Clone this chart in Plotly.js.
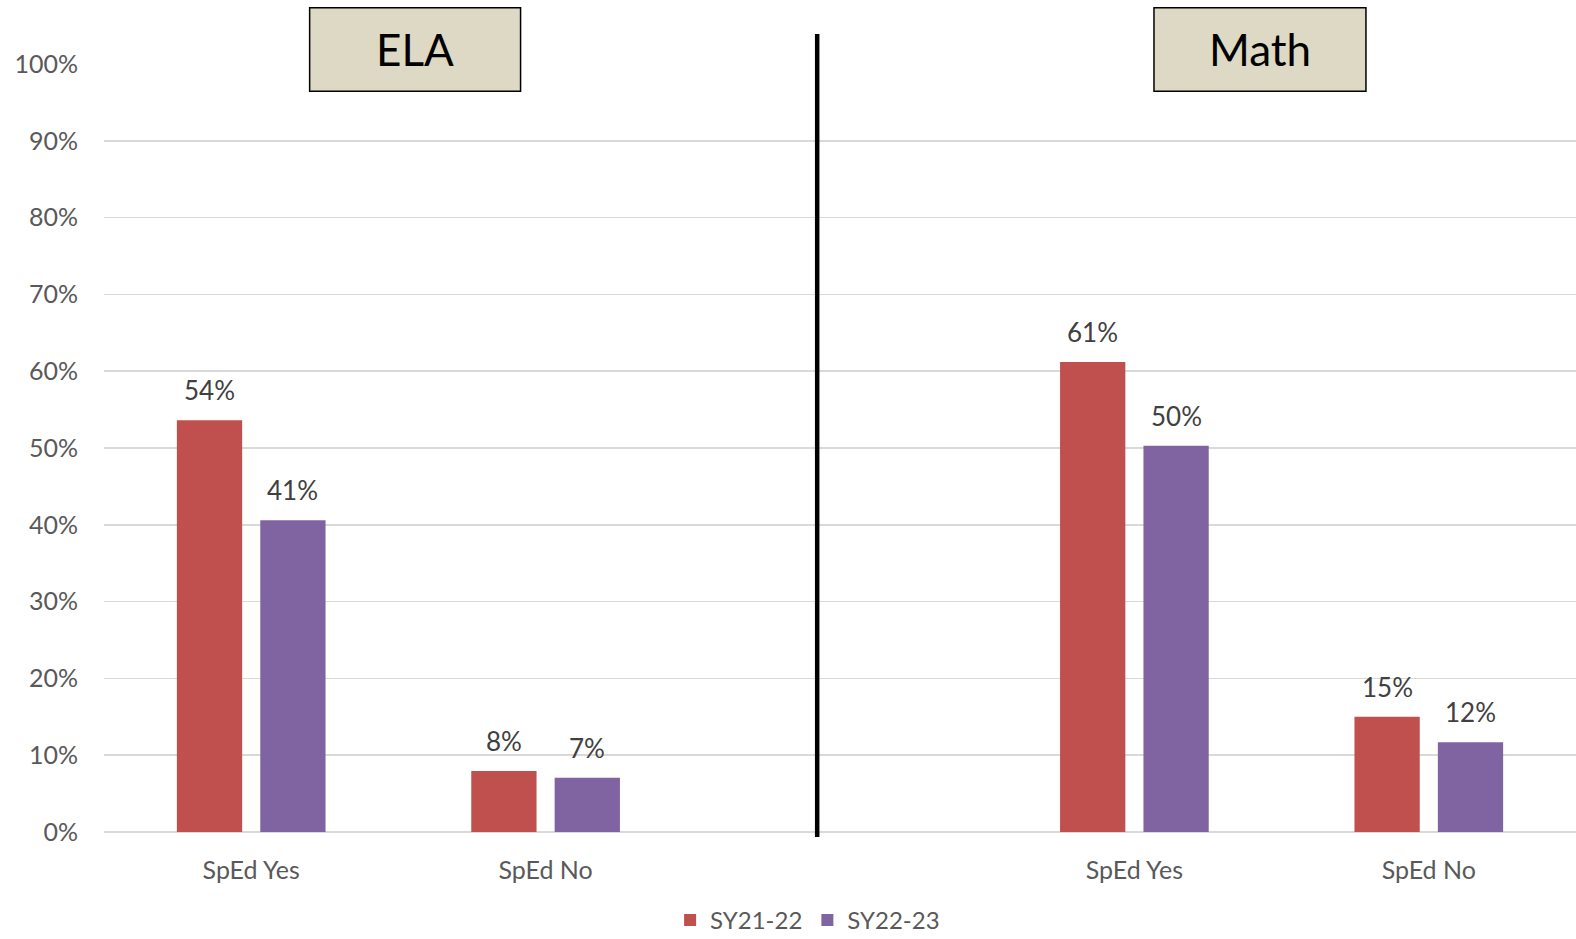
<!DOCTYPE html>
<html>
<head>
<meta charset="utf-8">
<script src="https://cdn.plot.ly/plotly-3.0.1.min.js"></script>
<style>
html,body{margin:0;padding:0;background:#fff;}
#chart{width:1576px;height:939px;}
</style>
</head>
<body>
<div id="chart"></div>
<script>
// ---- data ----
const subjects = ['ELA', 'Math'];
const categories = ['SpEd Yes', 'SpEd No', 'SpEd Yes', 'SpEd No'];
const categoryPos = [0, 1, 3, 4];
const seriesNames = ['SY21-22', 'SY22-23'];
const sy2122 = [53.6, 7.95, 61.2, 15.0];
const sy2223 = [40.6, 7.07, 50.3, 11.7];
const yTickVals = [0, 10, 20, 30, 40, 50, 60, 70, 80, 90, 100];

// ---- styles ----
const FONT = 'Lato, "Open Sans", sans-serif';
const colors = ['#C0504D', '#8064A2'];
const series = [sy2122, sy2223];

const traces = series.map((vals, i) => ({
  type: 'bar',
  name: seriesNames[i],
  x: categoryPos,
  y: vals.map(v => v / 100),
  marker: {color: colors[i]},
  hoverinfo: 'skip'
}));

const slotPx = 41.7;
const annotations = [];
series.forEach((vals, i) => {
  vals.forEach((v, j) => {
    annotations.push({
      x: categoryPos[j], y: v / 100, xref: 'x', yref: 'y',
      xshift: (i === 0 ? -slotPx : slotPx), yshift: 12,
      yanchor: 'bottom', showarrow: false,
      text: Math.round(v) + '%',
      font: {family: FONT, size: 26, color: '#404040'}
    });
  });
});

// subject boxes
const boxes = [
  {x0: 0.1397, x1: 0.283},
  {x0: 0.7133, x1: 0.8573}
];
const shapes = [];
boxes.forEach((b, i) => {
  shapes.push({
    type: 'rect', xref: 'paper', yref: 'paper',
    x0: b.x0, x1: b.x1, y0: 0.9646, y1: 1.0733,
    fillcolor: '#DDD9C4', line: {color: '#000', width: 1.5}, layer: 'above'
  });
  annotations.push({
    xref: 'paper', yref: 'paper', x: (b.x0 + b.x1) / 2, y: 1.019,
    xanchor: 'center', yanchor: 'middle', showarrow: false,
    text: subjects[i],
    font: {family: FONT, size: 44, color: '#000'}
  });
});
// divider line
shapes.push({
  type: 'line', xref: 'paper', yref: 'paper',
  x0: 0.4845, x1: 0.4845, y0: -0.0066, y1: 1.039,
  line: {color: '#000', width: 4.5}, layer: 'above'
});

const layout = {
  width: 1576, height: 939,
  margin: {l: 104, r: 0, t: 64.3, b: 106.8, autoexpand: false},
  paper_bgcolor: '#fff', plot_bgcolor: '#fff',
  barmode: 'group', bargap: 0.4335, bargroupgap: 0.217,
  showlegend: true,
  legend: {
    orientation: 'h', x: 0.478, y: -0.115, xanchor: 'center', yanchor: 'middle',
    font: {family: FONT, size: 24, color: '#595959'}, traceorder: 'normal'
  },
  xaxis: {
    range: [-0.5, 4.5], tickvals: categoryPos, ticktext: categories,
    showgrid: false, zeroline: false, showline: false, ticks: '',
    ticklabelstandoff: 21,
    tickfont: {family: FONT, size: 25, color: '#595959'}, fixedrange: true
  },
  yaxis: {
    range: [0, 1], tickvals: yTickVals.map(v => v / 100),
    ticktext: yTickVals.map(v => v + '%'),
    showgrid: true, gridcolor: '#D9D9D9', gridwidth: 1.5,
    zeroline: true, zerolinecolor: '#D9D9D9', zerolinewidth: 1.5,
    showline: false, ticks: '', ticklabelstandoff: 25,
    tickfont: {family: FONT, size: 25, color: '#595959'}, fixedrange: true
  },
  shapes: shapes,
  annotations: annotations
};

Plotly.newPlot('chart', traces, layout, {displayModeBar: false, staticPlot: true});
</script>
</body>
</html>
